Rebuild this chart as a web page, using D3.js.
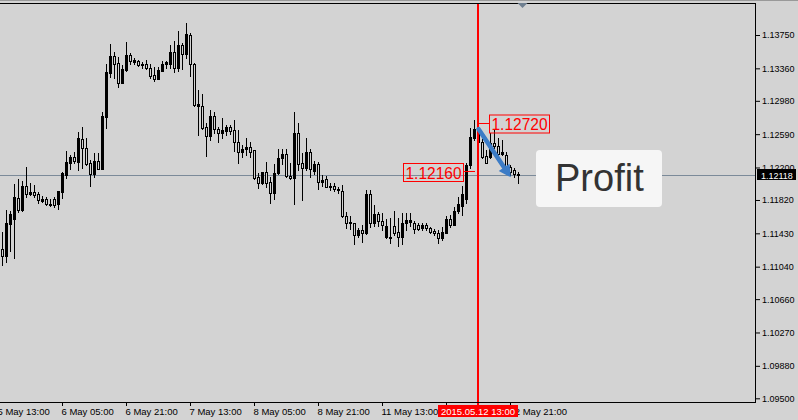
<!DOCTYPE html>
<html><head><meta charset="utf-8">
<script src="https://cdn.jsdelivr.net/npm/d3@7"></script>
<style>html,body{margin:0;padding:0;background:#d3d3d3;}svg{display:block;}</style>
</head><body>
<svg id="chart" width="798" height="420"></svg>
<script>
// ---- data (EURUSD H1, 5 May 14:00 – 12 May 23:00) ----
const opens = [1.11247,1.11165,1.11539,1.11601,1.11840,1.11700,1.11984,1.11890,1.11914,1.11890,
1.11812,1.11832,1.11762,1.11832,1.11777,1.11917,1.12113,1.12256,1.12320,1.12268,
1.12530,1.12425,1.12249,1.12121,1.12276,1.12186,1.12795,1.13309,1.13505,1.13423,
1.13192,1.13341,1.13517,1.13435,1.13446,1.13396,1.13411,1.13361,1.13279,1.13236,
1.13333,1.13411,1.13411,1.13555,1.13368,1.13634,1.13532,1.13751,1.13411,1.12923,
1.12920,1.12674,1.12569,1.12803,1.12647,1.12607,1.12631,1.12674,1.12639,1.12495,
1.12378,1.12413,1.12437,1.12405,1.12086,1.12015,1.12144,1.12034,1.11905,1.12132,
1.12308,1.12355,1.12104,1.12074,1.12600,1.12249,1.12191,1.12378,1.12163,1.12238,
1.12034,1.12062,1.11969,1.11980,1.11937,1.11925,1.11636,1.11547,1.11547,1.11405,
1.11469,1.11430,1.11888,1.11547,1.11656,1.11578,1.11391,1.11379,1.11516,1.11449,
1.11391,1.11554,1.11559,1.11547,1.11528,1.11489,1.11528,1.11489,1.11457,1.11437,
1.11372,1.11437,1.11594,1.11528,1.11691,1.11750,1.11832,1.12230,1.12549,1.12647,
1.12502,1.12335,1.12327,1.12483,1.12452,1.12355,1.12347,1.12210,1.12171,1.12124];
const highs = [1.11449,1.11703,1.11695,1.12007,1.12062,1.12042,1.12210,1.12015,1.11996,1.11910,
1.11867,1.11859,1.11832,1.11852,1.11925,1.12144,1.12397,1.12347,1.12382,1.12619,
1.12674,1.12542,1.12288,1.12366,1.12366,1.12846,1.13408,1.13645,1.13548,1.13490,
1.13400,1.13669,1.13536,1.13478,1.13458,1.13438,1.13455,1.13408,1.13376,1.13380,
1.13446,1.13446,1.13637,1.13680,1.13794,1.13660,1.13891,1.13770,1.13426,1.13107,
1.13060,1.12721,1.12873,1.12846,1.12678,1.12776,1.12698,1.12694,1.12756,1.12639,
1.12464,1.12542,1.12502,1.12405,1.12139,1.12148,1.12268,1.12093,1.12241,1.12417,
1.12417,1.12413,1.12249,1.12846,1.12717,1.12366,1.12542,1.12413,1.12280,1.12261,
1.12113,1.12101,1.12015,1.12015,1.11969,1.11992,1.11683,1.11633,1.11554,1.11498,
1.11524,1.11937,1.11937,1.11762,1.11676,1.11671,1.11594,1.11606,1.11695,1.11606,
1.11664,1.11671,1.11671,1.11578,1.11547,1.11547,1.11554,1.11501,1.11477,1.11469,
1.11508,1.11633,1.11645,1.11742,1.11855,1.11984,1.12253,1.12662,1.12756,1.12724,
1.12530,1.12405,1.12600,1.12639,1.12542,1.12522,1.12385,1.12230,1.12191,1.12151];
const lows = [1.11063,1.11095,1.11227,1.11145,1.11683,1.11691,1.11859,1.11882,1.11859,1.11788,
1.11793,1.11758,1.11750,1.11738,1.11718,1.11847,1.12081,1.12186,1.12253,1.12171,
1.12198,1.12233,1.11987,1.12093,1.12179,1.12186,1.12666,1.13263,1.13251,1.13146,
1.13192,1.13326,1.13408,1.13408,1.13391,1.13361,1.13356,1.13244,1.13216,1.13236,
1.13329,1.13368,1.13368,1.13321,1.13333,1.13349,1.13478,1.13274,1.12920,1.12581,
1.12647,1.12338,1.12522,1.12600,1.12502,1.12542,1.12577,1.12589,1.12397,1.12256,
1.12327,1.12347,1.12327,1.12069,1.11957,1.12007,1.11976,1.11788,1.11832,1.12124,
1.12241,1.12093,1.12062,1.11770,1.12171,1.11820,1.12171,1.12086,1.12124,1.11945,
1.11984,1.11969,1.11937,1.11929,1.11898,1.11625,1.11487,1.11478,1.11305,1.11391,
1.11326,1.11419,1.11508,1.11516,1.11516,1.11469,1.11372,1.11320,1.11411,1.11282,
1.11302,1.11469,1.11516,1.11437,1.11469,1.11469,1.11469,1.11430,1.11411,1.11313,
1.11352,1.11430,1.11508,1.11524,1.11668,1.11645,1.11785,1.12194,1.12522,1.12464,
1.12308,1.12249,1.12308,1.12425,1.12335,1.12347,1.12171,1.12113,1.12086,1.12022];
const closes = [1.11165,1.11547,1.11656,1.11859,1.11703,1.11984,1.11890,1.11914,1.11882,1.11824,
1.11828,1.11770,1.11777,1.11765,1.11925,1.12132,1.12265,1.12327,1.12280,1.12542,
1.12425,1.12245,1.12121,1.12276,1.12186,1.12803,1.13318,1.13505,1.13411,1.13185,
1.13353,1.13517,1.13450,1.13458,1.13396,1.13415,1.13361,1.13274,1.13236,1.13341,
1.13411,1.13431,1.13555,1.13368,1.13634,1.13532,1.13762,1.13411,1.12932,1.12940,
1.12666,1.12569,1.12803,1.12647,1.12607,1.12639,1.12674,1.12631,1.12495,1.12385,
1.12417,1.12437,1.12385,1.12081,1.12015,1.12144,1.12022,1.11905,1.12132,1.12308,
1.12355,1.12101,1.12074,1.12600,1.12238,1.12191,1.12378,1.12179,1.12241,1.12034,
1.12051,1.11969,1.11980,1.11945,1.11952,1.11636,1.11554,1.11563,1.11405,1.11469,
1.11430,1.11888,1.11547,1.11656,1.11578,1.11528,1.11516,1.11391,1.11430,1.11391,
1.11554,1.11586,1.11586,1.11477,1.11481,1.11528,1.11489,1.11442,1.11430,1.11372,
1.11449,1.11594,1.11528,1.11691,1.11773,1.11890,1.12230,1.12557,1.12647,1.12502,
1.12327,1.12256,1.12483,1.12452,1.12358,1.12378,1.12191,1.12151,1.12124,1.12118];

const timeTickIndex  = [-1, 15, 31, 47, 63, 79, 95, 111, 127];
const timeTickLabels = ["5 May 13:00","6 May 05:00","6 May 21:00","7 May 13:00","8 May 05:00",
                        "8 May 21:00","11 May 13:00","12 May 05:00","12 May 21:00"];
const priceTicks = [1.13750,1.13360,1.12980,1.12590,1.12200,1.11820,1.11430,1.11040,1.10660,1.10270,1.09880,1.09500];
const currentPrice = 1.12118;
const markerIndex = 119;                 // 2015.05.12 13:00
const markerLabel = "2015.05.12 13:00";
const levelHigh = 1.12720, levelLow = 1.12160;
const arrowFrom = {i:119, p:1.12650}, arrowTo = {i:127.2, p:1.12085};

// ---- layout ----
const BG = "#d3d3d3";
const plotRight = 755, plotTop = 3, plotBottom = 402;
const svg = d3.select("#chart");
const FONT = "'Liberation Sans', Arial, sans-serif";

const x = d3.scaleLinear().domain([0, 129]).range([2, 518]);
const y = d3.scaleLinear().domain([1.095, 1.1375]).range([398.3, 35]);

svg.append("rect").attr("width",798).attr("height",420).attr("fill",BG);
svg.append("rect").attr("x",0).attr("y",0).attr("width",798).attr("height",1).attr("fill","#999");

// current price line
const cpY = Math.round(y(currentPrice)) + 0.5;
svg.append("line").attr("x1",0).attr("x2",plotRight).attr("y1",cpY).attr("y2",cpY)
  .attr("stroke","#7b8a99").attr("stroke-width",1);

// candles
const idx = d3.range(opens.length);
const cg = svg.append("g");
idx.forEach(i => {
  const c = Math.round(x(i));
  const o = opens[i], cl = closes[i];
  cg.append("line").attr("x1",c+0.5).attr("x2",c+0.5)
    .attr("y1",Math.round(y(highs[i]))).attr("y2",Math.round(y(lows[i]))+1)
    .attr("stroke","#000").attr("stroke-width",1);
  const top = Math.round(y(Math.max(o,cl))), bot = Math.round(y(Math.min(o,cl)));
  if (cl > o) {
    cg.append("rect").attr("x",c-1).attr("y",top).attr("width",3)
      .attr("height",Math.max(1,bot-top+1)).attr("fill","#000");
  } else {
    cg.append("rect").attr("x",c-0.5).attr("y",top+0.5).attr("width",2)
      .attr("height",Math.max(0,bot-top)).attr("fill",BG)
      .attr("stroke","#000").attr("stroke-width",1);
  }
});

// red vertical line
const mx = Math.round(x(markerIndex));
svg.append("line").attr("x1",mx).attr("x2",mx).attr("y1",plotTop).attr("y2",405)
  .attr("stroke","#ff0000").attr("stroke-width",2);

// frame
svg.append("line").attr("x1",0).attr("x2",plotRight+0.5).attr("y1",plotTop+0.5).attr("y2",plotTop+0.5).attr("stroke","#000");
svg.append("line").attr("x1",plotRight+0.5).attr("x2",plotRight+0.5).attr("y1",plotTop).attr("y2",plotBottom+1).attr("stroke","#000");
svg.append("line").attr("x1",0).attr("x2",plotRight+0.5).attr("y1",plotBottom+0.5).attr("y2",plotBottom+0.5).attr("stroke","#000");

// price axis
const ya = svg.append("g").attr("transform",`translate(${plotRight+1},0)`)
  .call(d3.axisRight(y).tickValues(priceTicks).tickSize(4).tickPadding(2).tickFormat(d3.format(".5f")));
ya.select(".domain").remove();
ya.selectAll("line").attr("stroke","#000");
ya.selectAll("text").attr("font-family",FONT).attr("font-size","9px").attr("fill","#000").attr("x",6);

// time axis (the label under the marker tag is hidden by it, as in the terminal)
const xa = svg.append("g").attr("transform",`translate(0,${plotBottom+1})`)
  .call(d3.axisBottom(x).tickValues(timeTickIndex).tickSize(3)
    .tickFormat((d,k)=> d === markerIndex - 8 ? "" : timeTickLabels[k]));
xa.select(".domain").remove();
xa.selectAll("line").attr("stroke","#000");
xa.selectAll("text").attr("font-family",FONT).attr("font-size","9.5px").attr("fill","#000")
  .attr("text-anchor","start").attr("x",-1).attr("y",11.6).attr("dy",0);

// red level labels
const ly1 = Math.round(y(levelHigh)) + 0.5;
svg.append("line").attr("x1",mx).attr("x2",mx+11).attr("y1",ly1).attr("y2",ly1).attr("stroke","#ff0000");
svg.append("rect").attr("x",mx+11.5).attr("y",ly1-8.5).attr("width",60).attr("height",18)
  .attr("fill","none").attr("stroke","#ff0000");
svg.append("text").attr("x",mx+41.5).attr("y",ly1+6.5).attr("text-anchor","middle")
  .attr("font-family",FONT).attr("font-size","17px").attr("fill","#ff0000")
  .attr("textLength",56).attr("lengthAdjust","spacingAndGlyphs").text(levelHigh.toFixed(5));

const ly2 = Math.round(y(levelLow)) + 0.5;
svg.append("line").attr("x1",mx-14).attr("x2",mx-3).attr("y1",ly2).attr("y2",ly2).attr("stroke","#ff0000");
svg.append("rect").attr("x",mx-74.5).attr("y",ly2-8).attr("width",60).attr("height",18)
  .attr("fill","none").attr("stroke","#ff0000");
svg.append("text").attr("x",mx-44.5).attr("y",ly2+7).attr("text-anchor","middle")
  .attr("font-family",FONT).attr("font-size","17px").attr("fill","#ff0000")
  .attr("textLength",56).attr("lengthAdjust","spacingAndGlyphs").text(levelLow.toFixed(5));

// blue arrow
const ax1 = x(arrowFrom.i)+0.5, ay1 = y(arrowFrom.p), ax2 = x(arrowTo.i), ay2 = y(arrowTo.p);
const dx = ax2-ax1, dy = ay2-ay1, L = Math.hypot(dx,dy), ux = dx/L, uy = dy/L;
const hl = 12, hw = 6.5, bx = ax2-ux*hl, by = ay2-uy*hl;
svg.append("line").attr("x1",ax1).attr("y1",ay1).attr("x2",bx+ux).attr("y2",by+uy)
  .attr("stroke","#3c7cc6").attr("stroke-width",4.5).attr("stroke-linecap","round");
svg.append("path").attr("d",`M${ax2},${ay2}L${bx-uy*hw},${by+ux*hw}L${bx+uy*hw},${by-ux*hw}Z`)
  .attr("fill","#3c7cc6");

// Profit box
svg.append("rect").attr("x",536).attr("y",150).attr("width",126).attr("height",57).attr("rx",4)
  .attr("fill","#f6f6f6");
svg.append("text").attr("x",555).attr("y",191).attr("font-family",FONT).attr("font-size","38px")
  .attr("fill","#333").text("Profit");

// current price label
svg.append("rect").attr("x",plotRight+2).attr("y",cpY-6.5).attr("width",39).attr("height",11).attr("fill","#000");
svg.append("text").attr("x",plotRight+6).attr("y",cpY).attr("dy","0.35em")
  .attr("font-family",FONT).attr("font-size","9px").attr("fill","#fff").text(currentPrice.toFixed(5));

// time marker label
svg.append("rect").attr("x",mx-40).attr("y",405).attr("width",80).attr("height",12).attr("fill","#ff0000");
svg.append("text").attr("x",mx).attr("y",414.5).attr("text-anchor","middle")
  .attr("font-family",FONT).attr("font-size","9.5px").attr("fill","#fff").text(markerLabel);

// chart shift triangle
const tx = Math.round(x(130)) + 0.5;
svg.append("path").attr("d",`M${tx-5},${plotTop}L${tx+5},${plotTop}L${tx},${plotTop+5}Z`).attr("fill","#6f7f90");
</script>
</body></html>
